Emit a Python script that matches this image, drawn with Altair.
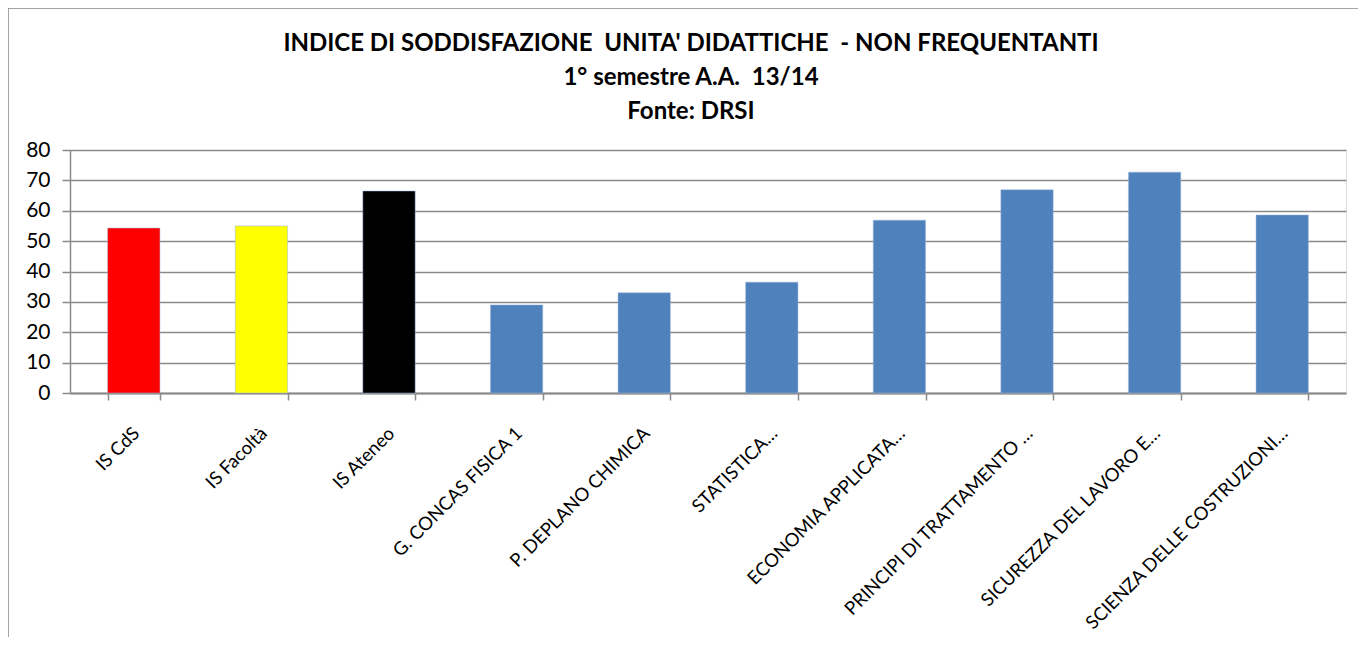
import altair as alt
import pandas as pd

categories = [
    "IS CdS", "IS Facoltà", "IS Ateneo", "G. CONCAS FISICA 1",
    "P. DEPLANO CHIMICA", "STATISTICA…", "ECONOMIA APPLICATA…",
    "PRINCIPI DI TRATTAMENTO …", "SICUREZZA DEL LAVORO E…",
    "SCIENZA DELLE COSTRUZIONI…",
]
values = [54.3, 55.0, 66.5, 29.0, 33.0, 36.5, 56.9, 66.9, 72.7, 58.6]
colors = ["#FF0000", "#FFFF00", "#000000"] + ["#4F81BD"] * 7
y_ticks = [0, 10, 20, 30, 40, 50, 60, 70, 80]
title_lines = [
    "INDICE DI SODDISFAZIONE \u00a0UNITA' DIDATTICHE \u00a0- NON FREQUENTANTI",
    "1° semestre A.A. \u00a013/14",
    "Fonte: DRSI",
]

df = pd.DataFrame({"cat": categories, "val": values, "col": colors})

FONT = "Lato"
GRID = "#8a8a8a"

bars = alt.Chart(df).mark_bar(strokeWidth=1, strokeOpacity=0.5).encode(
    x=alt.X(
        "cat:N", sort=categories,
        scale=alt.Scale(paddingInner=0.59, paddingOuter=0.295),
        axis=alt.Axis(
            title=None, labelAngle=-45, labelAlign="right", labelBaseline="middle",
            labelFont=FONT, labelFontSize=18.5, labelColor="#000000",
            labelPadding=30, labelOffset=2,
            tickBand="extent", tickSize=7, tickColor=GRID, tickWidth=1.5,
            domainColor=GRID, domainWidth=2, grid=False, labelLimit=400,
        ),
    ),
    y=alt.Y(
        "val:Q", scale=alt.Scale(domain=[0, 80]),
        axis=alt.Axis(
            title=None, values=y_ticks, labelFont=FONT, labelFontSize=21,
            labelColor="#000000", labelPadding=12, tickSize=8, tickColor=GRID,
            tickWidth=1.5, domainColor=GRID, domainWidth=1.5,
            gridColor=GRID, gridWidth=1.5,
        ),
    ),
    color=alt.Color("col:N", scale=None),
    stroke=alt.value("#9db7dc"),
)

frame = alt.Chart(pd.DataFrame({"k": [0]})).mark_rect(
    fill=None, stroke="#888888", strokeWidth=1.5
).encode(
    x=alt.value(-62), x2=alt.value(1400), y=alt.value(-142), y2=alt.value(600)
)

title_y = [-99, -65, -31]
title_layers = []
for line, ty in zip(title_lines, title_y):
    title_layers.append(
        alt.Chart(pd.DataFrame({"t": [line]})).mark_text(
            font=FONT, fontSize=24, fontWeight="bold", color="#000000",
            align="center", baseline="alphabetic",
        ).encode(text="t:N", x=alt.value(621), y=alt.value(ty))
    )

chart = alt.layer(bars, frame, *title_layers).properties(
    width=1276, height=243,
    autosize=alt.AutoSizeParams(type="none"),
    padding={"left": 62, "top": 142, "right": 12, "bottom": 244},
).configure_view(stroke=None).configure(background="white")

chart.save("out.html", embed_options={"renderer": "svg", "actions": False})
